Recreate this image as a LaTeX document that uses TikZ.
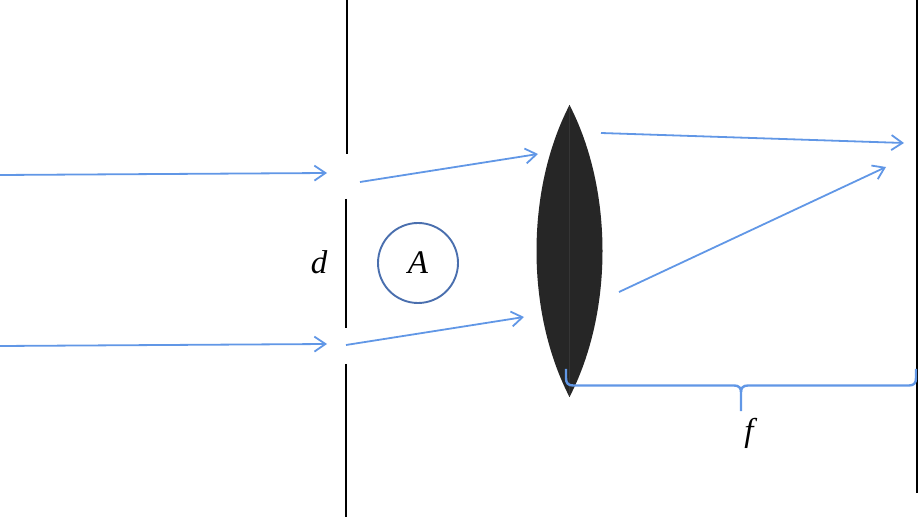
\documentclass[tikz,border=0pt]{standalone}
\usepackage{fontspec}
\setmainfont{Liberation Serif}
\usetikzlibrary{arrows.meta}
\definecolor{ray}{HTML}{6197E6}
\definecolor{ringc}{HTML}{4A6FAE}
\definecolor{lensc}{HTML}{262626}
\tikzset{
  x=1pt,y=-1pt,
  rayline/.style={ray,line width=1.8pt,-{Straight Barb[length=11pt,width=15pt,line width=1.8pt]}},
  wall/.style={black,line width=2pt},
  lbl/.style={font=\fontsize{33}{33}\selectfont\itshape,inner sep=0pt},
  ringnode/.style={circle,draw=ringc,line width=1.9pt,minimum size=80pt,inner sep=0pt,font=\fontsize{33}{33}\selectfont\itshape},
  bracel/.style={ray,line width=2.4pt,line cap=butt}
}
\begin{document}
\begin{tikzpicture}
\useasboundingbox (0,0) rectangle (918,518);
% walls
\coordinate (w1a) at (347,0);   \coordinate (w1b) at (347,154);
\coordinate (w2a) at (346,199); \coordinate (w2b) at (346,328);
\coordinate (w3a) at (346,364); \coordinate (w3b) at (346,517);
\coordinate (s1) at (917,0);    \coordinate (s2) at (917,493);
\draw[wall] (w1a) -- (w1b);
\draw[wall] (w2a) -- (w2b);
\draw[wall] (w3a) -- (w3b);
\draw[wall] (s1) -- (s2);
% lens
\coordinate (lt) at (569.5,105);
\coordinate (lb) at (569.5,397);
\fill[lensc] (lt) .. controls (525.5,190) and (525.5,312) .. (lb)
                  .. controls (613.5,312) and (613.5,190) .. (lt);
\draw[white!7!lensc,line width=.6pt] (lt) -- (lb);
% rays
\coordinate (r1a) at (0,175);   \coordinate (r1b) at (327,173);
\coordinate (r2a) at (360,182); \coordinate (r2b) at (538,154);
\coordinate (r3a) at (601,133); \coordinate (r3b) at (904,143);
\coordinate (r4a) at (0,346);   \coordinate (r4b) at (327,344);
\coordinate (r5a) at (346,345); \coordinate (r5b) at (524,317);
\coordinate (r6a) at (619,292); \coordinate (r6b) at (886,167);
\draw[rayline] (r1a) -- (r1b);
\draw[rayline] (r2a) -- (r2b);
\draw[rayline] (r3a) -- (r3b);
\draw[rayline] (r4a) -- (r4b);
\draw[rayline] (r5a) -- (r5b);
\draw[rayline] (r6a) -- (r6b);
% labels
\node[ringnode] (A) at (418,263) {A};
\node[lbl] (d) at (319,262) {d};
\node[lbl] (f) at (749,433) {f};
% brace
\coordinate (b0) at (566,369);
\coordinate (b1) at (741,411);
\coordinate (b2) at (916,369);
\draw[bracel] (b0) -- (566,378) .. controls (566,383) and (568,385.5) .. (573,385.5)
  -- (734,385.5) .. controls (739,385.5) and (741,388) .. (741,392) -- (b1);
\draw[bracel] (741,392) .. controls (741,388) and (743,385.5) .. (748,385.5)
  -- (909,385.5) .. controls (914,385.5) and (916,383) .. (916,378) -- (b2);
\end{tikzpicture}
\end{document}
